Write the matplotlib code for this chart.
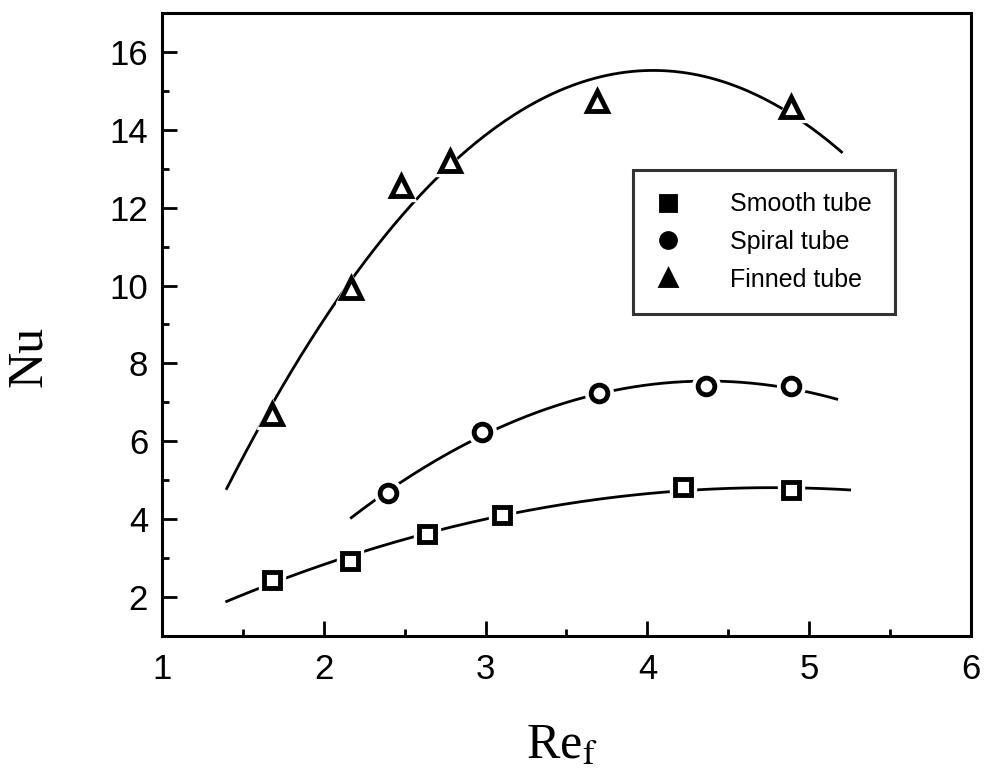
import numpy as np
import matplotlib
matplotlib.use("Agg")
import matplotlib.pyplot as plt
from matplotlib.ticker import MultipleLocator

plt.rcParams["mathtext.fontset"] = "stix"

# data
smooth_re = [1.68, 2.16, 2.64, 3.10, 4.22, 4.89]
smooth_nu = [2.45, 2.92, 3.62, 4.12, 4.82, 4.75]
spiral_re = [2.40, 2.98, 3.70, 4.36, 4.89]
spiral_nu = [4.68, 6.24, 7.24, 7.42, 7.42]
finned_re = [1.68, 2.17, 2.48, 2.78, 3.69, 4.89]
finned_nu = [6.70, 9.93, 12.56, 13.20, 14.73, 14.58]

# range of the fitted curves
smooth_span = (1.40, 5.25)
spiral_span = (2.17, 5.17)
finned_span = (1.40, 5.20)

labels = ["Smooth tube", "Spiral tube", "Finned tube"]


def fit_curve(x, y, span, deg=2):
	c = np.polyfit(x, y, deg)
	xs = np.linspace(span[0], span[1], 200)
	return xs, np.polyval(c, xs)


fig = plt.figure(figsize=(9.84, 7.74), dpi=100)
ax = fig.add_axes([0.1646, 0.1783, 0.8222, 0.8049])

series = [
	(smooth_re, smooth_nu, smooth_span, "s", 11),
	(spiral_re, spiral_nu, spiral_span, "o", 12),
	(finned_re, finned_nu, finned_span, "^", 14),
]

for (x, y, span, mk, ms), lab in zip(series, labels):
	xs, ys = fit_curve(x, y, span)
	ax.plot(xs, ys, color="black", lw=2, zorder=2)
	# white halo so the line stops short of each marker
	ax.plot(x, y, ls="none", marker=mk, ms=ms + 8, mfc="white", mec="white", zorder=3)
	ax.plot(x, y, ls="none", marker=mk, ms=ms, mfc="white", mec="black", mew=3.5,
		zorder=4, label=lab)

ax.set_xlim(1, 6)
ax.set_ylim(1, 17)
ax.set_xticks([1, 2, 3, 4, 5, 6])
ax.set_yticks([2, 4, 6, 8, 10, 12, 14, 16])
ax.xaxis.set_minor_locator(MultipleLocator(0.5))
ax.yaxis.set_minor_locator(MultipleLocator(1))
ax.tick_params(which="both", direction="in", width=2, labelsize=25)
ax.tick_params(axis="x", pad=12)
ax.tick_params(axis="y", pad=10)
ax.tick_params(which="major", length=11)
ax.tick_params(which="minor", length=5)
for t in ax.get_xticklabels() + ax.get_yticklabels():
	t.set_family("Liberation Sans")
for s in ax.spines.values():
	s.set_linewidth(2.2)

ax.set_xlabel("Re$_{\\mathrm{f}}$", fontsize=36, family="Liberation Serif")
ax.set_ylabel("Nu", fontsize=36, family="Liberation Serif")
ax.xaxis.set_label_coords(0.494, -0.14)
ax.yaxis.set_label_coords(-0.136, 0.448)

handles, labs = ax.get_legend_handles_labels()
leg = ax.legend(handles, labs, loc="upper left", bbox_to_anchor=(0.582, 0.748),
	frameon=True, fancybox=False, edgecolor="black",
	prop={"family": "Liberation Sans", "size": 18}, handlelength=1.0,
	handletextpad=2.0, labelspacing=0.55, borderpad=0.9, borderaxespad=0)
leg.get_frame().set_linewidth(2.2)
for h in leg.legend_handles:
	h.set_markersize(10)
	h.set_markerfacecolor("black")

fig.savefig("out.png", dpi=100)
